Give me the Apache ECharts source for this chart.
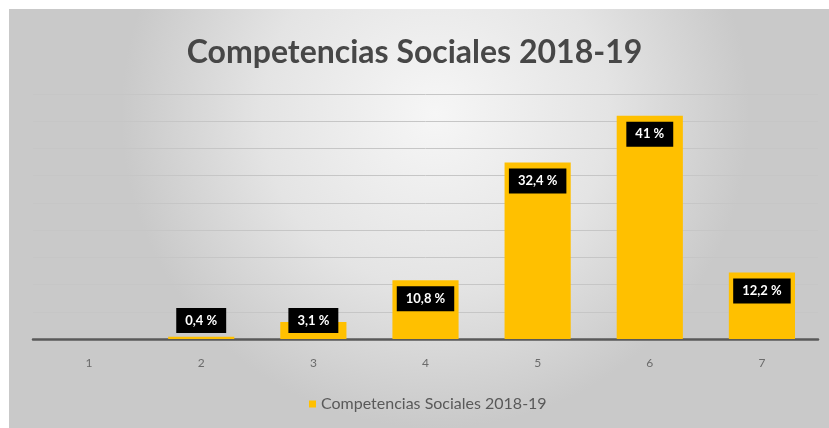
<!DOCTYPE html>
<html>
<head>
<meta charset="utf-8">
<style>
  html, body { margin: 0; padding: 0; background: #ffffff; }
  #chart { width: 829px; height: 428px; }
</style>
<script src="https://cdn.jsdelivr.net/npm/echarts@6/dist/echarts.min.js"></script>
</head>
<body>
<div id="chart"></div>
<script>
// Social competences distribution, 2018-19 (percent per level)
const categories = ['1', '2', '3', '4', '5', '6', '7'];
const percentages = [0, 0.4, 3.1, 10.8, 32.4, 41, 12.2];
const seriesName = 'Competencias Sociales 2018-19';
const chartTitle = 'Competencias Sociales 2018-19';

const fontFamily = 'Lato, "Open Sans", sans-serif';

const barData = percentages.map(function (v) {
  const item = { value: v };
  if (v === 0) {
    item.label = { show: false };
  } else if (v < 8) {
    // short bars: keep the label box resting just above the axis line
    item.label = { position: 'insideBottom', distance: 6 };
  }
  return item;
});

const chart = echarts.init(document.getElementById('chart'), null, { renderer: 'canvas' });

chart.setOption({
  backgroundColor: '#ffffff',
  animation: false,
  graphic: [{
    type: 'rect',
    z: -10,
    silent: true,
    shape: { x: 9, y: 9, width: 820, height: 419 },
    style: {
      fill: {
        type: 'radial',
        x: 0.52, y: 0.25, r: 0.75,
        colorStops: [
          { offset: 0, color: '#f6f6f6' },
          { offset: 0.55, color: '#e4e4e4' },
          { offset: 1, color: '#c9c9c9' }
        ]
      }
    }
  }],
  title: {
    text: chartTitle,
    left: 'center',
    top: 32,
    textStyle: {
      fontFamily: fontFamily,
      fontWeight: 'bold',
      fontSize: 32,
      color: '#474747'
    }
  },
  legend: {
    bottom: 11,
    left: 304,
    icon: 'rect',
    itemWidth: 7,
    itemHeight: 7,
    itemGap: 6,
    textStyle: { fontFamily: fontFamily, fontSize: 16, color: '#595959' },
    data: [seriesName]
  },
  grid: { left: 33, right: 11, top: 94, bottom: 89, containLabel: false },
  xAxis: {
    type: 'category',
    data: categories,
    axisLine: { show: true, lineStyle: { color: '#595959', width: 2.5 } },
    axisTick: { show: false },
    axisLabel: { fontFamily: fontFamily, fontSize: 12, color: '#6b6b6b', margin: 18 }
  },
  yAxis: {
    type: 'value',
    min: 0,
    max: 45,
    interval: 5,
    axisLine: { show: false },
    axisTick: { show: false },
    axisLabel: { show: false },
    splitLine: { show: true, lineStyle: { color: '#c6c6c6', width: 1 } }
  },
  series: [{
    name: seriesName,
    type: 'bar',
    data: barData,
    barWidth: '59%',
    itemStyle: { color: '#FFC000' },
    label: {
      show: true,
      position: 'insideTop',
      distance: 6,
      backgroundColor: '#000000',
      padding: [6, 9],
      color: '#ffffff',
      fontFamily: fontFamily,
      fontWeight: 'bold',
      fontSize: 13,
      formatter: function (p) {
        return String(p.value).replace('.', ',') + ' %';
      }
    }
  }]
});
</script>
</body>
</html>
